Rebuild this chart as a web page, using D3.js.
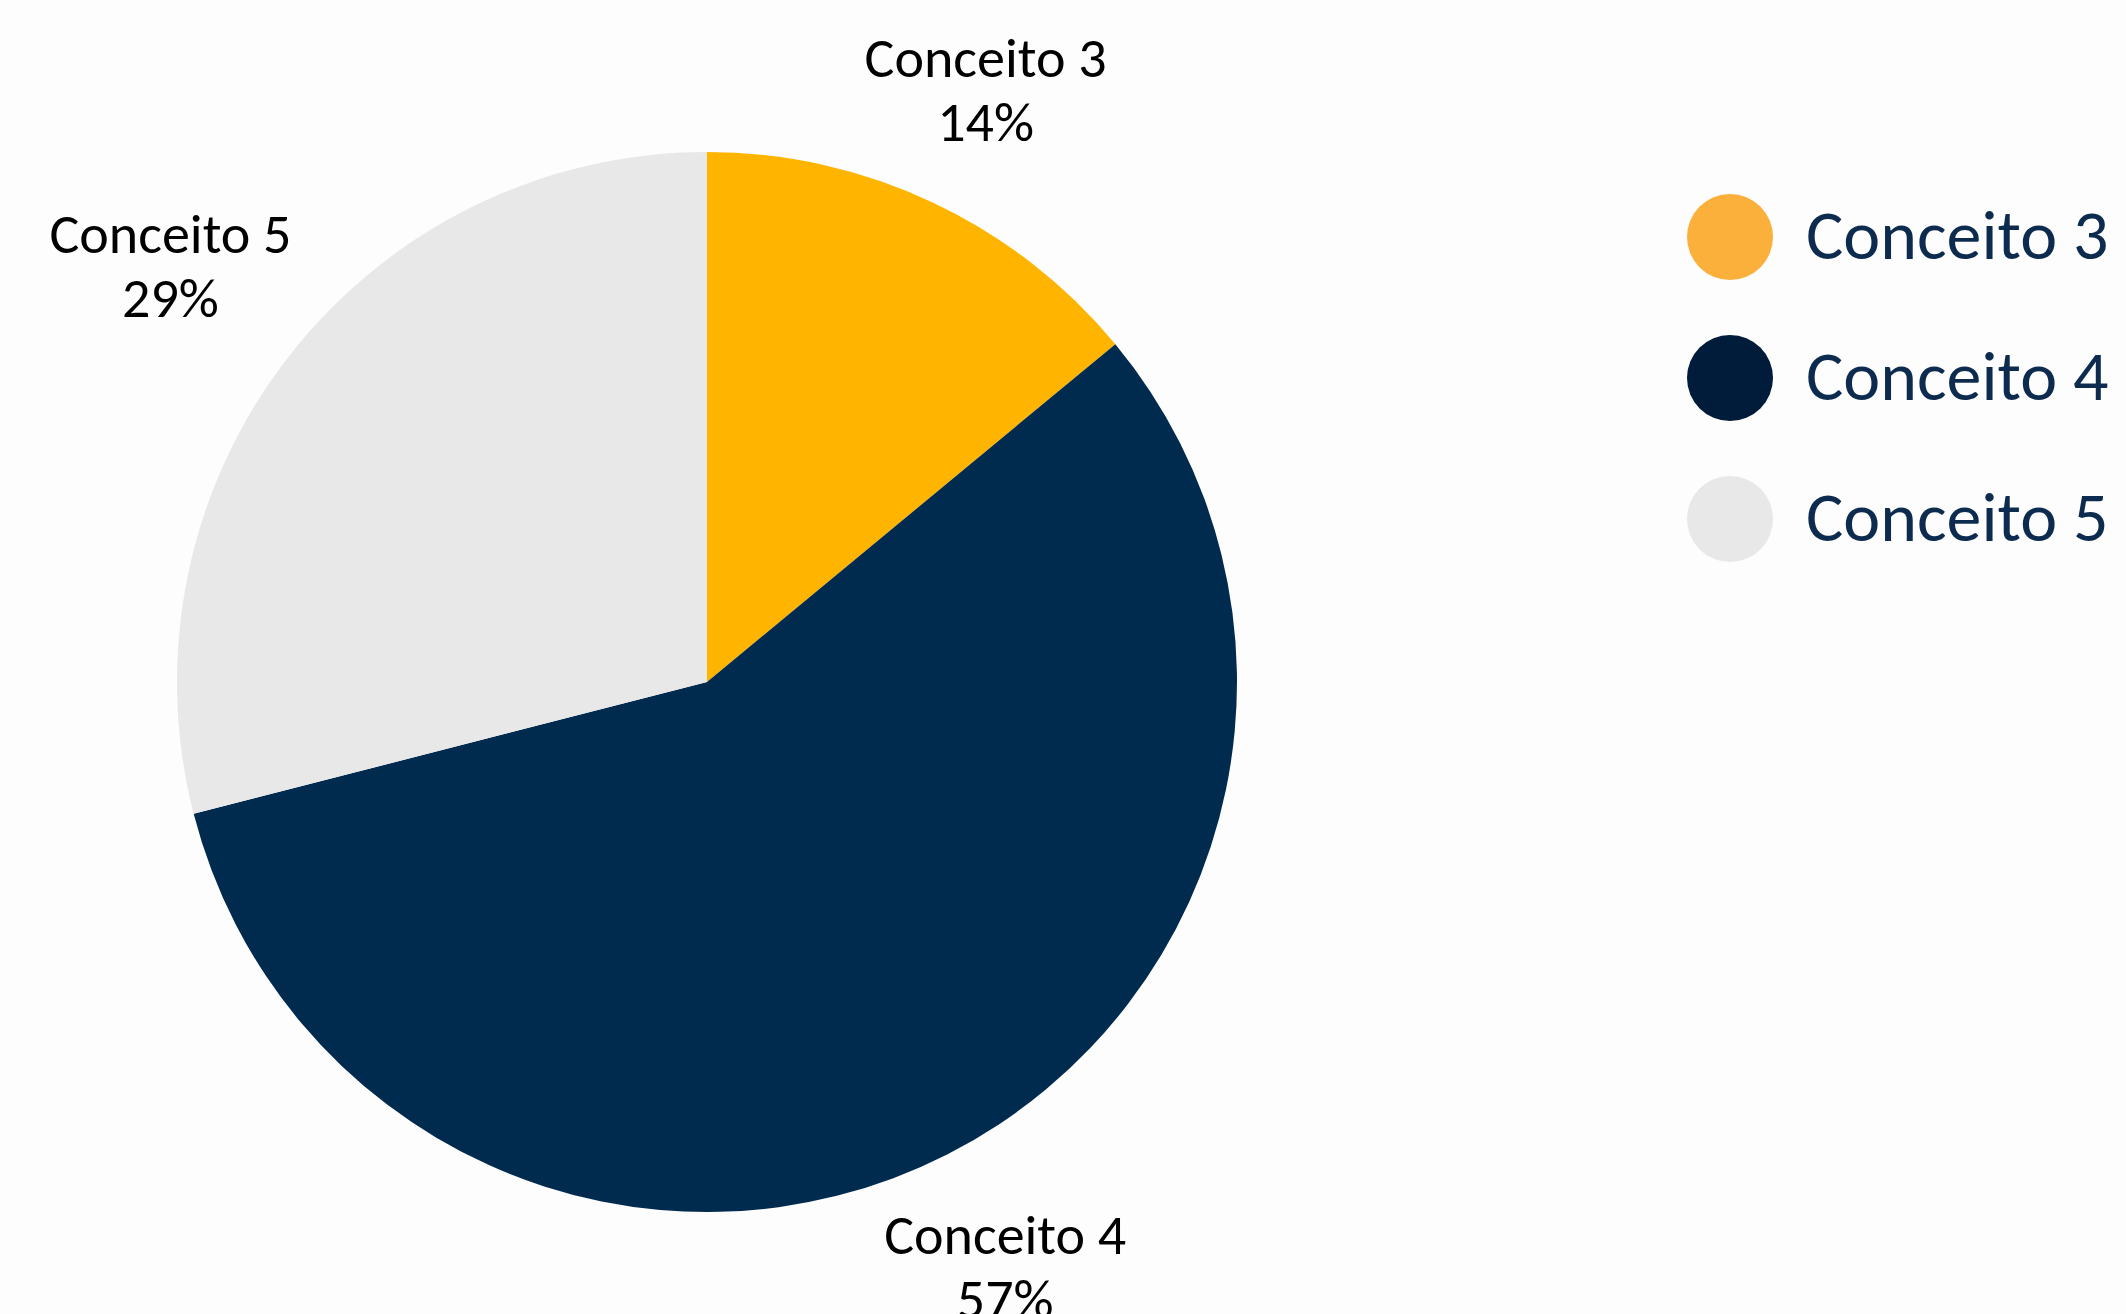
<!DOCTYPE html>
<meta charset="utf-8">
<style>
html, body { margin: 0; padding: 0; overflow: hidden; background: #fdfdfd; }
svg { display: block; }
.label { font-family: Carlito, Lato, sans-serif; fill: #000; text-anchor: middle; }
.legend text { font-family: Carlito, Lato, sans-serif; fill: #0d2b4e; }
</style>
<svg></svg>
<script src="https://d3js.org/d3.v7.min.js"></script>
<script>

var categories = ["Conceito 3", "Conceito 4", "Conceito 5"];
var values = [14, 57, 29];
var sliceColors = ["#ffb500", "#002b4f", "#e8e8e8"];
var legendColors = ["#fbb03b", "#001c3a", "#e8e8e8"];

var width = 2126, height = 1314;
var cx = 707, cy = 682, radius = 530;

var svg = d3.select("svg").attr("width", width).attr("height", height);

var data = categories.map(function(c, i) { return { name: c, value: values[i] }; });

var pie = d3.pie().sort(null).value(function(d) { return d.value; });
var arc = d3.arc().innerRadius(0).outerRadius(radius);
var arcs = pie(data);

var g = svg.append("g").attr("transform", "translate(" + cx + "," + cy + ")");

g.selectAll("path")
  .data(arcs)
  .enter().append("path")
    .attr("d", arc)
    .attr("fill", function(d, i) { return sliceColors[i]; });

// data labels, placed just outside the edge along each slice's mid angle
var labelSize = 56, lineGap = 64, labelGap = 13;
var labels = g.selectAll("text.label")
  .data(arcs)
  .enter().append("text")
    .attr("class", "label")
    .style("font-size", labelSize + "px");

labels.append("tspan").attr("x", 0).attr("dy", 0).text(function(d) { return d.data.name; });
labels.append("tspan").attr("x", 0).attr("dy", lineGap).text(function(d) { return d.data.value + "%"; });

labels.each(function(d) {
  var box = this.getBBox();
  var a = (d.startAngle + d.endAngle) / 2;
  var s = Math.sin(a), c = Math.cos(a);
  var dist = radius + labelGap + Math.abs(box.width / 2 * s) + Math.abs(box.height / 2 * c);
  var px = dist * s, py = -dist * c;
  var dx = px - (box.x + box.width / 2);
  var dy = py - (box.y + box.height / 2);
  d3.select(this).attr("transform", "translate(" + dx + "," + dy + ")");
});

// legend
var legendY = d3.scalePoint().domain(categories).range([237, 519]);
var legend = svg.append("g").attr("class", "legend")
  .selectAll("g")
  .data(categories)
  .enter().append("g")
    .attr("transform", function(d) { return "translate(1730," + legendY(d) + ")"; });

legend.append("circle")
  .attr("r", 43)
  .attr("fill", function(d, i) { return legendColors[i]; });

legend.append("text")
  .attr("x", 76)
  .attr("y", 22)
  .style("font-size", "70px")
  .text(function(d) { return d; });

</script>
